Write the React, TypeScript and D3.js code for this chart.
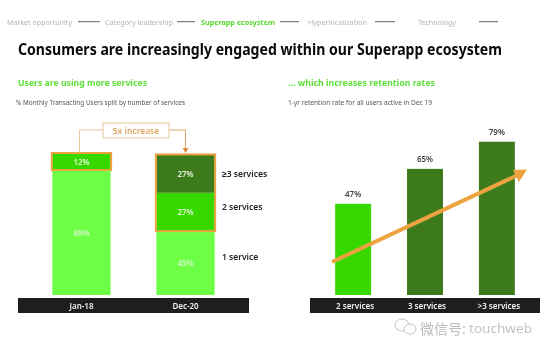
import React from "react";
import * as d3 from "d3";

const leftCategories = ["Jan-18", "Dec-20"];
const oneService = [88, 45];
const twoServices = [12, 27];
const threeServices = [0, 27];
const rightCategories = ["2 services", "3 services", ">3 services"];
const retention = [47, 65, 79];
const navItems = ["Market opportunity", "Category leadership", "Superapp ecosystem", "Hyperlocalization", "Technology"];
const navX = [7, 105, 201, 308, 418];
const navW = [65, 68, 74, 59, 38];
const navLines = [[78, 100], [177, 195], [280, 299], [375, 395], [479, 498]];
const legendLabels = ["≥3 services", "2 services", "1 service"];

const FONT = "'Noto Sans', Verdana, sans-serif";
const LIGHT = "#6cff45";
const MID = "#36d800";
const DARK = "#3d7a1c";
const ORANGE = "#eda33f";
const INK = "#1f1d20";

const yL = d3.scaleLinear().domain([0, 100]).range([295, 153]);
const xL = d3.scaleBand().domain(leftCategories).range([18, 249]).paddingInner(0.44).paddingOuter(0.33);
const yR = d3.scaleLinear().domain([0, 100]).range([295, 101]);
const xR = d3.scaleBand().domain(rightCategories).range([310, 540]).paddingInner(0.5).paddingOuter(0.35);

const T = (p: any) => <text fontFamily={FONT} {...p} />;

export default function App() {
  const stacks = d3.stack<any>().keys(["a", "b", "c"])(
    leftCategories.map((cat, i) => ({ cat, a: oneService[i], b: twoServices[i], c: threeServices[i] }))
  );
  const colors = [LIGHT, MID, DARK];
  const labelFill = ["#d8f7cc", "#e6f7dc", "#e6f0de"];
  const bw = xL.bandwidth();
  const boxes = leftCategories.map((cat, i) => ({
    x: xL(cat)!,
    y0: yL(oneService[i] + twoServices[i] + threeServices[i]),
    y1: yL(oneService[i]),
  }));
  const cJan = xL("Jan-18")! + bw / 2;
  const cDec = xL("Dec-20")! + bw / 2;
  return (
    <svg width={550} height={352} style={{ position: "absolute", left: 0, top: 0, background: "#fff", filter: "blur(0.45px)" }}>
      {navItems.map((t, i) => (
        <T key={t} x={navX[i]} y={25} fontSize={7.6} fontWeight={i === 2 ? 700 : 400} fill={i === 2 ? "#55d82f" : "#b4b4b4"}
          textLength={navW[i]} lengthAdjust="spacingAndGlyphs">{t}</T>
      ))}
      {navLines.map((l, i) => <line key={i} x1={l[0]} x2={l[1]} y1={21.7} y2={21.7} stroke="#666" strokeWidth={1} />)}
      <T x={18} y={55} fontSize={16} fontWeight={700} fill="#0a0a0a" textLength={484} lengthAdjust="spacingAndGlyphs">
        Consumers are increasingly engaged within our Superapp ecosystem
      </T>
      <T x={18} y={86} fontSize={9.4} fontWeight={700} fill="#5fe03a" textLength={129} lengthAdjust="spacingAndGlyphs">Users are using more services</T>
      <T x={288} y={86} fontSize={9.4} fontWeight={700} fill="#5fe03a" textLength={147} lengthAdjust="spacingAndGlyphs">… which increases retention rates</T>
      <T x={16} y={105} fontSize={6.6} fill="#555" textLength={169} lengthAdjust="spacingAndGlyphs">% Monthly Transacting Users split by number of services</T>
      <T x={288} y={105} fontSize={6.6} fill="#555" textLength={144} lengthAdjust="spacingAndGlyphs">1-yr retention rate for all users active in Dec 19</T>

      {stacks.map((s, k) => s.map((d, i) => d[1] > d[0] && (
        <g key={`${k}-${i}`}>
          <rect x={xL(leftCategories[i])} width={bw} y={yL(d[1])} height={yL(d[0]) - yL(d[1])} fill={colors[k]} />
          <T x={xL(leftCategories[i])! + bw / 2} y={(yL(d[0]) + yL(d[1])) / 2 + 3} fontSize={8} fontWeight={600} textAnchor="middle" fill={labelFill[k]}>
            {d[1] - d[0]}%
          </T>
        </g>
      )))}
      {boxes.map((b, i) => (
        <rect key={i} x={b.x - 0.5} y={b.y0} width={bw + 1} height={b.y1 - b.y0} fill="none" stroke={ORANGE} strokeWidth={2} />
      ))}
      <rect x={103} y={123} width={66} height={15} fill="#fff" stroke="#e8c79c" strokeWidth={1} />
      <T x={136} y={134} fontSize={8.5} fontWeight={600} textAnchor="middle" fill="#dca868">5x increase</T>
      <path d={`M${cJan - 2},152V130H103`} fill="none" stroke="#e8c79c" strokeWidth={1} />
      <path d={`M169,130H${cDec}V149`} fill="none" stroke="#e0a868" strokeWidth={1} />
      <path d={`M${cDec - 3},148h6l-3,5z`} fill="#e08a30" />
      {legendLabels.map((t, i) => (
        <T key={t} x={222} y={[177, 210, 260][i]} fontSize={8.5} fontWeight={600} fill="#222">{t}</T>
      ))}
      <rect x={18} y={298} width={231} height={15} fill={INK} />
      {leftCategories.map(c => (
        <T key={c} x={xL(c)! + bw / 2} y={309} fontSize={8} fontWeight={600} fill="#f2f2f2" textAnchor="middle">{c}</T>
      ))}

      {rightCategories.map((c, i) => (
        <g key={c}>
          <rect x={xR(c)} width={xR.bandwidth()} y={yR(retention[i])} height={295 - yR(retention[i])} fill={i === 0 ? MID : DARK} />
          <T x={xR(c)! + xR.bandwidth() / 2} y={yR(retention[i]) - 7} fontSize={8} fontWeight={600} fill="#444" textAnchor="middle">{retention[i]}%</T>
        </g>
      ))}
      <line x1={332} y1={262} x2={518} y2={175} stroke={ORANGE} strokeWidth={4} />
      <path d="M527,169.5L513,170L519,182z" fill={ORANGE} />
      <rect x={310} y={298} width={230} height={15} fill={INK} />
      {rightCategories.map(c => (
        <T key={c} x={xR(c)! + xR.bandwidth() / 2 + 2} y={309} fontSize={8} fontWeight={600} fill="#f2f2f2" textAnchor="middle">{c}</T>
      ))}

      <g fill="#fff" stroke="#c4c4c4" strokeWidth={1}>
        <ellipse cx={402} cy={325} rx={7} ry={6} />
        <ellipse cx={410} cy={329} rx={6} ry={5} />
      </g>
      <text x={420} y={334} fontFamily="'Noto Sans CJK SC', sans-serif" fontSize={14} fill="#bcbcbc">微信号:</text>
      <T x={469} y={333} fontSize={12} fill="#c4c4c4" textLength={63} lengthAdjust="spacingAndGlyphs">touchweb</T>
    </svg>
  );
}
